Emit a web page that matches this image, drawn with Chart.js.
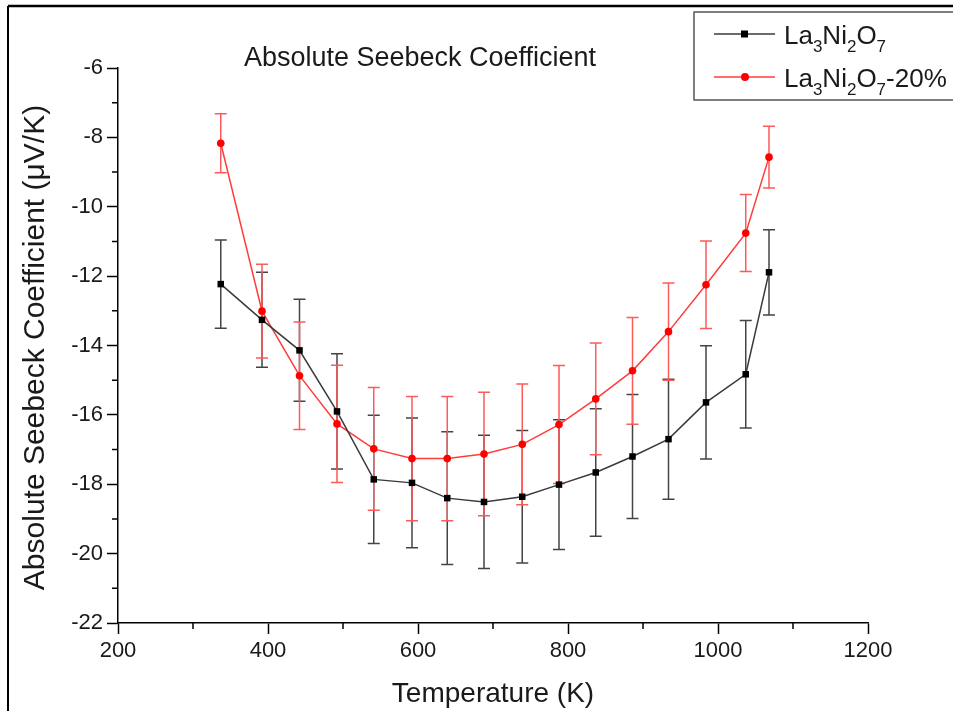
<!DOCTYPE html>
<html><head><meta charset="utf-8">
<script src="https://cdn.jsdelivr.net/npm/chart.js@4/dist/chart.umd.min.js"></script>
<style>html,body{margin:0;padding:0;background:#fff}#wrap{position:relative;width:953px;height:711px}</style>
</head><body><div id="wrap"><canvas id="c" width="953" height="711"></canvas></div>
<script>
const temperatures = [337,392,442,492,541,592,639,688,739,788,837,886,934,984,1037,1068];
const seebeckPure = [-12.23,-13.26,-14.14,-15.90,-17.86,-17.96,-18.40,-18.51,-18.36,-18.01,-17.66,-17.20,-16.70,-15.64,-14.83,-11.89];
const errPure = [1.27,1.37,1.47,1.66,1.85,1.87,1.91,1.92,1.91,1.87,1.84,1.79,1.73,1.63,1.55,1.23];
const seebeck20 = [-8.17,-13.01,-14.87,-16.26,-16.98,-17.26,-17.26,-17.13,-16.85,-16.28,-15.54,-14.73,-13.60,-12.25,-10.76,-8.57];
const err20 = [0.85,1.35,1.55,1.69,1.77,1.79,1.79,1.78,1.74,1.70,1.61,1.54,1.40,1.26,1.11,0.89];
const xTicks = [200,400,600,800,1000,1200];
const yTicks = [-22,-20,-18,-16,-14,-12,-10,-8,-6];
const titleText = 'Absolute Seebeck Coefficient';
const xTitle = 'Temperature (K)';
const yTitle = 'Absolute Seebeck Coefficient (\u03BCV/K)';
const legendParts = [
  [['La',0],['3',1],['Ni',0],['2',1],['O',0],['7',1]],
  [['La',0],['3',1],['Ni',0],['2',1],['O',0],['7',1],['-20%',0]]
];
const FONT = '"Liberation Sans", Arial, sans-serif';
const blackLine = '#3a3a3a', blackErr = '#444444';
const redLine = '#ff3c3c', redErr = '#ff5a5a';

const errors = [errPure, err20];
const errColors = [blackErr, redErr];

const errorBarPlugin = {
  id: 'errbars',
  beforeDatasetsDraw(chart) {
    const ctx = chart.ctx, xs = chart.scales.x, ys = chart.scales.y;
    chart.data.datasets.forEach((ds, di) => {
      const err = errors[di];
      ctx.save();
      ctx.strokeStyle = errColors[di];
      ctx.lineWidth = 1.5;
      ds.data.forEach((p, i) => {
        const x = xs.getPixelForValue(p.x);
        const yt = ys.getPixelForValue(p.y + err[i]);
        const yb = ys.getPixelForValue(p.y - err[i]);
        ctx.beginPath();
        ctx.moveTo(x, yt); ctx.lineTo(x, yb);
        ctx.moveTo(x - 6, yt); ctx.lineTo(x + 6, yt);
        ctx.moveTo(x - 6, yb); ctx.lineTo(x + 6, yb);
        ctx.stroke();
      });
      ctx.restore();
    });
  }
};

function drawRich(ctx, parts, x, y, size, subSize) {
  let cx = x;
  parts.forEach(([t, sub]) => {
    ctx.font = (sub ? subSize : size) + 'px ' + FONT;
    ctx.fillText(t, cx, sub ? y + 8 : y);
    cx += ctx.measureText(t).width;
  });
}

const decorPlugin = {
  id: 'decor',
  afterDraw(chart) {
    const ctx = chart.ctx, xs = chart.scales.x, ys = chart.scales.y;
    ctx.save();
    // minor ticks
    ctx.strokeStyle = '#000'; ctx.lineWidth = 1.5;
    ctx.beginPath();
    for (let i = 0; i < xTicks.length - 1; i++) {
      const x = xs.getPixelForValue((xTicks[i] + xTicks[i + 1]) / 2);
      ctx.moveTo(x, xs.top); ctx.lineTo(x, xs.top + 6);
    }
    for (let i = 0; i < yTicks.length - 1; i++) {
      const y = ys.getPixelForValue((yTicks[i] + yTicks[i + 1]) / 2);
      ctx.moveTo(ys.right, y); ctx.lineTo(ys.right - 6, y);
    }
    ctx.stroke();
    // frame
    ctx.lineWidth = 2.5; ctx.strokeStyle = '#000';
    ctx.beginPath(); ctx.moveTo(8, 6); ctx.lineTo(953, 6); ctx.stroke();
    ctx.lineWidth = 2;
    ctx.beginPath(); ctx.moveTo(8, 6); ctx.lineTo(8, 711); ctx.stroke();
    // title
    ctx.fillStyle = '#1a1a1a';
    ctx.font = '27px ' + FONT;
    ctx.textAlign = 'center'; ctx.textBaseline = 'alphabetic';
    ctx.fillText(titleText, 420, 66);
    // axis titles
    ctx.font = '28px ' + FONT;
    ctx.textBaseline = 'middle';
    ctx.fillText(xTitle, (xs.left + xs.right) / 2, 694);
    ctx.save();
    ctx.font = '30px ' + FONT;
    ctx.translate(36, (ys.top + ys.bottom) / 2 + 2);
    ctx.rotate(-Math.PI / 2);
    ctx.fillText(yTitle, 0, 0);
    ctx.restore();
    // legend
    ctx.strokeStyle = '#555'; ctx.lineWidth = 1.5;
    ctx.strokeRect(694, 12, 280, 88);
    const rows = [34, 77];
    const cols = [blackLine, redLine];
    rows.forEach((ry, r) => {
      ctx.strokeStyle = cols[r]; ctx.lineWidth = 1.5;
      ctx.beginPath(); ctx.moveTo(714, ry); ctx.lineTo(775, ry); ctx.stroke();
      if (r === 0) { ctx.fillStyle = '#000'; ctx.fillRect(741, ry - 3.5, 7, 7); }
      else { ctx.fillStyle = '#ff0000'; ctx.beginPath(); ctx.arc(745, ry, 4, 0, Math.PI * 2); ctx.fill(); }
      ctx.fillStyle = '#1a1a1a';
      ctx.textAlign = 'left'; ctx.textBaseline = 'alphabetic';
      drawRich(ctx, legendParts[r], 784, ry + 10, 26, 17);
    });
    ctx.restore();
  }
};

new Chart(document.getElementById('c'), {
  type: 'scatter',
  data: {
    datasets: [
      { label: 'La3Ni2O7', data: temperatures.map((t, i) => ({x: t, y: seebeckPure[i]})),
        showLine: true, borderColor: blackLine, borderWidth: 1.5, pointStyle: 'rect',
        pointRadius: 4.6, pointBackgroundColor: '#000', pointBorderColor: '#000', pointBorderWidth: 0 },
      { label: 'La3Ni2O7-20%', data: temperatures.map((t, i) => ({x: t, y: seebeck20[i]})),
        showLine: true, borderColor: redLine, borderWidth: 1.5, pointStyle: 'circle',
        pointRadius: 3.8, pointBackgroundColor: '#ff0000', pointBorderColor: '#ff0000', pointBorderWidth: 0 }
    ]
  },
  options: {
    responsive: false, animation: false,
    layout: { autoPadding: false, padding: { left: 0, right: 85, top: 68, bottom: 0 } },
    plugins: { legend: { display: false }, tooltip: { enabled: false }, title: { display: false } },
    scales: {
      x: {
        type: 'linear', min: 200, max: 1200,
        afterBuildTicks: s => { s.ticks = xTicks.map(v => ({value: v})); },
        afterFit: s => { s.height = 88; },
        ticks: { font: { family: FONT, size: 22 }, color: '#1a1a1a', padding: 4, maxRotation: 0,
                 callback: v => String(v) },
        grid: { drawOnChartArea: false, tickLength: 11, tickColor: '#000', tickWidth: 1.5 },
        border: { display: true, color: '#000', width: 1.5 }
      },
      y: {
        type: 'linear', min: -22, max: -6,
        afterBuildTicks: s => { s.ticks = yTicks.map(v => ({value: v})); },
        afterFit: s => { s.width = 118; },
        ticks: { font: { family: FONT, size: 22 }, color: '#1a1a1a', padding: 4,
                 callback: v => String(v) },
        grid: { drawOnChartArea: false, tickLength: 11, tickColor: '#000', tickWidth: 1.5 },
        border: { display: true, color: '#000', width: 1.5 }
      }
    }
  },
  plugins: [errorBarPlugin, decorPlugin]
});
</script></body></html>
